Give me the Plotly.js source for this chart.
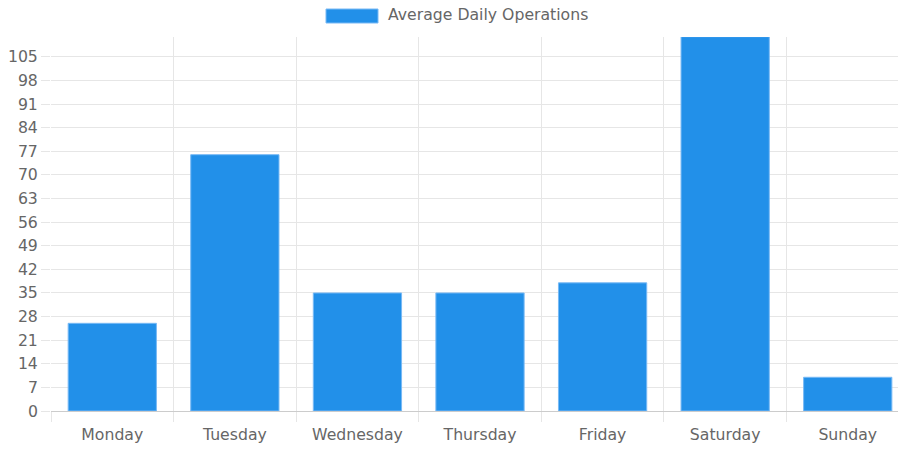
<!DOCTYPE html>
<html>
<head>
<meta charset="utf-8">
<script src="https://cdn.plot.ly/plotly-3.0.1.min.js"></script>
<style>html,body{margin:0;padding:0;background:#fff;}#chart{width:899px;height:453px;}</style>
</head>
<body>
<div id="chart"></div>
<script>
const days = ["Monday", "Tuesday", "Wednesday", "Thursday", "Friday", "Saturday", "Sunday"];
const operations = [26, 76, 35, 35, 38, 111, 10];
const seriesName = "Average Daily Operations";
const yTicks = [0, 7, 14, 21, 28, 35, 42, 49, 56, 63, 70, 77, 84, 91, 98, 105];

const barColor = "#2290e9";
const gridColor = "#e6e6e6";
const textColor = "#666666";
const fontFam = "DejaVu Sans, sans-serif";
const fontSize = 15.7;

const boundaries = days.map((d, i) => i - 0.5).concat([days.length - 0.5]);

const traces = [
  {
    type: "bar",
    x: days,
    y: operations,
    name: seriesName,
    marker: { color: barColor, line: { color: "rgba(120,185,245,1)", width: 1 } },
    width: 0.72,
    hoverinfo: "x+y",
    showlegend: false
  },
  {
    type: "scatter",
    x: [],
    y: [],
    xaxis: "x2",
    yaxis: "y",
    showlegend: false,
    hoverinfo: "skip"
  }
];

const layout = {
  width: 899,
  height: 453,
  margin: { l: 51, r: 1, t: 37, b: 42 },
  paper_bgcolor: "#fff",
  plot_bgcolor: "#fff",
  font: { family: fontFam, size: fontSize, color: textColor },
  showlegend: false,
  xaxis: {
    type: "category",
    categoryorder: "array",
    categoryarray: days,
    range: [-0.5, 6.41],
    showgrid: false,
    zeroline: false,
    showline: false,
    ticks: "",
    tickfont: { family: fontFam, size: fontSize, color: textColor },
    ticklabelstandoff: 12
  },
  xaxis2: {
    overlaying: "x",
    anchor: "y",
    side: "bottom",
    type: "linear",
    range: [-0.5, 6.41],
    tickmode: "array",
    tickvals: boundaries,
    showticklabels: false,
    showgrid: true,
    gridcolor: gridColor,
    gridwidth: 1,
    ticks: "outside",
    ticklen: 10,
    tickcolor: gridColor,
    tickwidth: 1,
    zeroline: false,
    showline: false
  },
  yaxis: {
    range: [0, 110.9],
    tickmode: "array",
    tickvals: yTicks,
    ticktext: yTicks.map(String),
    showgrid: true,
    gridcolor: gridColor,
    gridwidth: 1,
    ticks: "outside",
    ticklen: 9,
    tickcolor: gridColor,
    zeroline: true,
    zerolinecolor: "#cccccc",
    zerolinewidth: 1,
    showline: false,
    tickfont: { family: fontFam, size: fontSize, color: textColor }
  },
  shapes: [
    {
      type: "rect",
      xref: "paper", yref: "paper",
      x0: (326 - 51) / 847, x1: (378 - 51) / 847,
      y0: (411 - 23) / 374, y1: (411 - 9) / 374,
      fillcolor: barColor,
      line: { color: "rgba(120,185,245,1)", width: 1 }
    }
  ],
  annotations: [
    {
      xref: "paper", yref: "paper",
      x: (386 - 51) / 847, y: (411 - 15) / 374,
      xanchor: "left", yanchor: "middle",
      text: seriesName,
      showarrow: false,
      font: { family: fontFam, size: fontSize, color: textColor }
    }
  ]
};

Plotly.newPlot("chart", traces, layout, { displayModeBar: false, responsive: false });
</script>
</body>
</html>
